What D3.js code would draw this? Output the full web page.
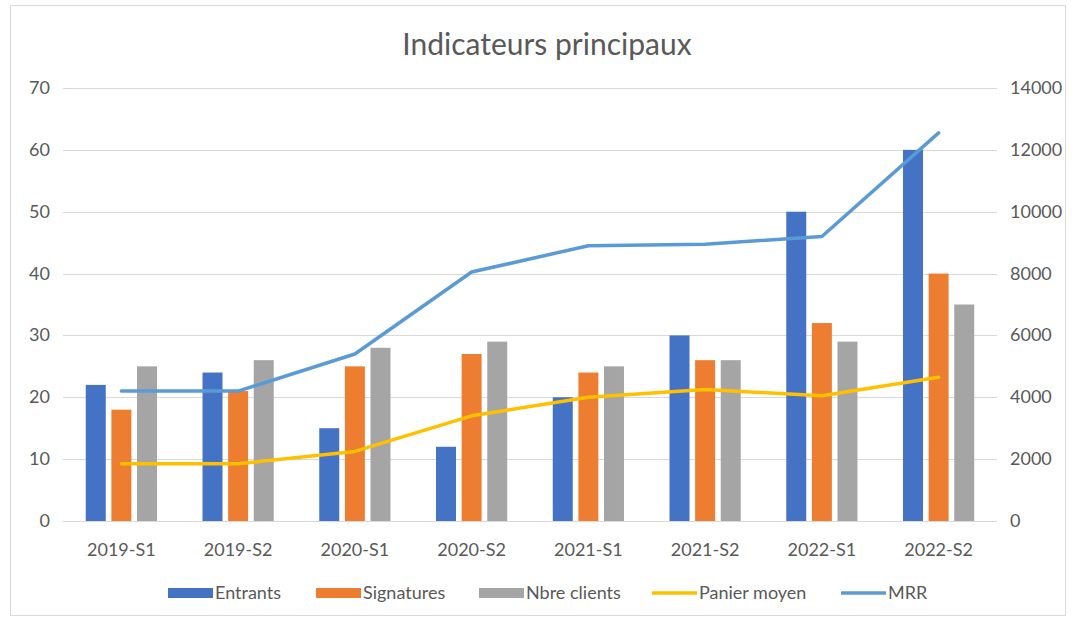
<!DOCTYPE html>
<html lang="fr">
<head>
<meta charset="utf-8">
<title>Indicateurs principaux</title>
<script src="https://cdn.jsdelivr.net/npm/d3@7"></script>
<style>
  body { margin: 0; background: #fff; }
  text { font-family: Lato, "Open Sans", sans-serif; fill: #595959; }
</style>
</head>
<body>
<script>
// data
var periods = ["2019-S1", "2019-S2", "2020-S1", "2020-S2", "2021-S1", "2021-S2", "2022-S1", "2022-S2"];
var entrants = [22, 24, 15, 12, 20, 30, 50, 60];
var signatures = [18, 21, 25, 27, 24, 26, 32, 40];
var nbreClients = [25, 26, 28, 29, 25, 26, 29, 35];
var panierMoyen = [1850, 1850, 2250, 3400, 4000, 4250, 4050, 4650];
var mrr = [4200, 4200, 5400, 8050, 8900, 8950, 9200, 12550];
var leftTicks = [0, 10, 20, 30, 40, 50, 60, 70];
var rightTicks = [0, 2000, 4000, 6000, 8000, 10000, 12000, 14000];

var w = 1073, h = 622;
var plotLeft = 63, plotRight = 997, plotTop = 88, plotBottom = 521;

var svg = d3.select("body").append("svg")
  .attr("width", w)
  .attr("height", h);

// chart border
svg.append("rect")
  .attr("x", 10.5).attr("y", 5.5)
  .attr("width", 1055).attr("height", 610)
  .attr("fill", "#fff")
  .attr("stroke", "#d9d9d9");

var x = d3.scaleBand().domain(periods).range([plotLeft, plotRight]);
var yL = d3.scaleLinear().domain([0, 70]).range([plotBottom, plotTop]);
var yR = d3.scaleLinear().domain([0, 14000]).range([plotBottom, plotTop]);

var barSeries = [
  { name: "Entrants", values: entrants, color: "#4472C4" },
  { name: "Signatures", values: signatures, color: "#ED7D31" },
  { name: "Nbre clients", values: nbreClients, color: "#A5A5A5" }
];
var lineSeries = [
  { name: "Panier moyen", values: panierMoyen, color: "#FFC000" },
  { name: "MRR", values: mrr, color: "#5B9BD5" }
];

var groupW = x.bandwidth() * 0.61;
var inner = d3.scaleBand()
  .domain(d3.range(barSeries.length))
  .range([0, groupW])
  .paddingInner(0.22);
var groupOffset = (x.bandwidth() - groupW) / 2;

// gridlines
svg.append("g").selectAll("line")
  .data(leftTicks)
  .enter().append("line")
  .attr("x1", plotLeft).attr("x2", plotRight)
  .attr("y1", function(d) { return Math.round(yL(d)) + 0.5; })
  .attr("y2", function(d) { return Math.round(yL(d)) + 0.5; })
  .attr("stroke", "#d9d9d9")
  .attr("stroke-width", 1);

// left axis labels
svg.append("g").selectAll("text")
  .data(leftTicks)
  .enter().append("text")
  .attr("x", 50)
  .attr("y", function(d) { return yL(d) + 6; })
  .attr("text-anchor", "end")
  .attr("font-size", "18px")
  .text(function(d) { return d; });

// right axis labels
svg.append("g").selectAll("text")
  .data(rightTicks)
  .enter().append("text")
  .attr("x", 1010)
  .attr("y", function(d) { return yR(d) + 6; })
  .attr("text-anchor", "start")
  .attr("font-size", "18px")
  .text(function(d) { return d; });

// category labels
svg.append("g").selectAll("text")
  .data(periods)
  .enter().append("text")
  .attr("x", function(d) { return x(d) + x.bandwidth() / 2; })
  .attr("y", 556)
  .attr("text-anchor", "middle")
  .attr("font-size", "18px")
  .text(function(d) { return d; });

// bars
barSeries.forEach(function(s, si) {
  svg.append("g").selectAll("rect")
    .data(s.values)
    .enter().append("rect")
    .attr("x", function(d, i) { return x(periods[i]) + groupOffset + inner(si); })
    .attr("y", function(d) { return yL(d); })
    .attr("width", inner.bandwidth())
    .attr("height", function(d) { return yL(0) - yL(d); })
    .attr("fill", s.color);
});

// lines
var line = d3.line()
  .x(function(d, i) { return x(periods[i]) + x.bandwidth() / 2; })
  .y(function(d) { return yR(d); });

lineSeries.forEach(function(s) {
  svg.append("path")
    .datum(s.values)
    .attr("d", line)
    .attr("fill", "none")
    .attr("stroke", s.color)
    .attr("stroke-width", 3.5)
    .attr("stroke-linejoin", "round")
    .attr("stroke-linecap", "round");
});

// title
svg.append("text")
  .attr("x", 547)
  .attr("y", 55)
  .attr("text-anchor", "middle")
  .attr("font-size", "30px")
  .text("Indicateurs principaux");

// legend
var legendItems = [
  { name: "Entrants", color: "#4472C4", type: "bar", x: 168 },
  { name: "Signatures", color: "#ED7D31", type: "bar", x: 316 },
  { name: "Nbre clients", color: "#A5A5A5", type: "bar", x: 479 },
  { name: "Panier moyen", color: "#FFC000", type: "line", x: 652 },
  { name: "MRR", color: "#5B9BD5", type: "line", x: 841 }
];
var ly = 593;
var lg = svg.append("g").selectAll("g")
  .data(legendItems)
  .enter().append("g")
  .attr("transform", function(d) { return "translate(" + d.x + "," + ly + ")"; });

lg.filter(function(d) { return d.type === "bar"; })
  .append("rect")
  .attr("x", 0).attr("y", -5)
  .attr("width", 45).attr("height", 10)
  .attr("fill", function(d) { return d.color; });

lg.filter(function(d) { return d.type === "line"; })
  .append("line")
  .attr("x1", 0).attr("x2", 45)
  .attr("y1", 0).attr("y2", 0)
  .attr("stroke", function(d) { return d.color; })
  .attr("stroke-width", 3.5);

lg.append("text")
  .attr("x", 47)
  .attr("y", 6)
  .attr("font-size", "18px")
  .text(function(d) { return d.name; });
</script>
</body>
</html>
